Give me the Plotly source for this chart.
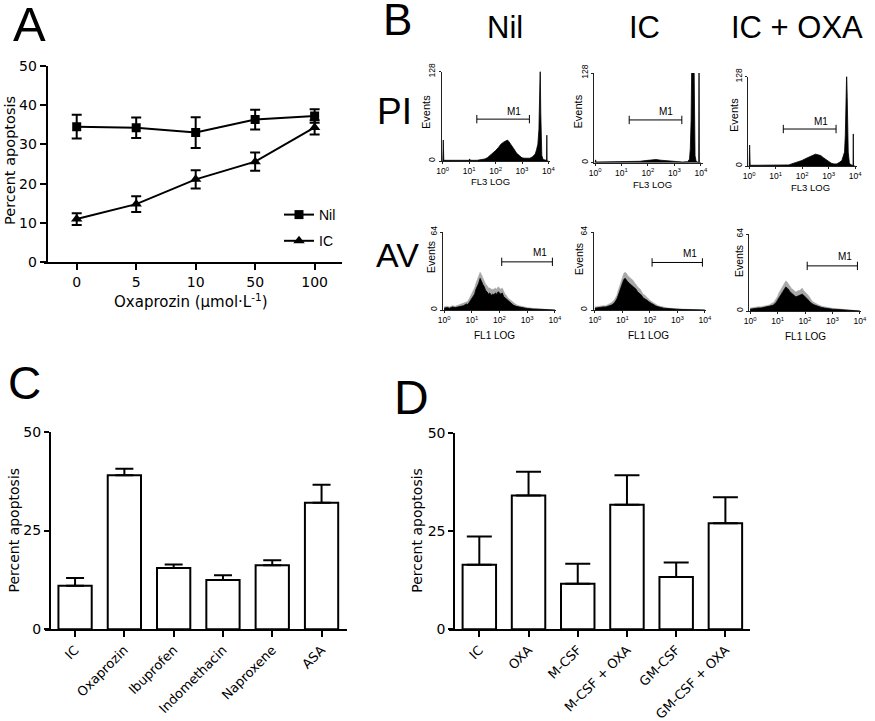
import plotly.graph_objects as go

W, H = 875, 721


def px(x):
    return x / W


def py(y):
    return 1 - y / H


# ---------------- Panel A data ----------------
a_doses = ["0", "5", "10", "50", "100"]
a_nil = [34.5, 34.2, 33.0, 36.3, 37.2]
a_nil_err = [3.0, 2.6, 3.9, 2.5, 1.7]
a_ic = [11.0, 14.8, 21.1, 25.6, 34.3]
a_ic_err = [1.5, 2.0, 2.3, 2.3, 1.8]

# ---------------- Panel B data (flow cytometry, log decades) ----------------
pi_nil_x = [0, 0.02, 0.04, 0.5, 1.0, 1.02, 1.04, 1.3, 1.5, 1.6, 1.7, 1.8, 1.9, 2.0, 2.1, 2.2, 2.3, 2.4, 2.45, 2.5,
            2.6, 2.7, 2.8, 2.9, 3.0, 3.1, 3.2, 3.3, 3.4, 3.5, 3.55, 3.6, 3.64, 3.67, 3.69, 3.71, 3.73, 3.75, 3.8, 3.9,
            3.93, 3.94, 3.95, 4.0]
pi_nil_y = [0, 30, 1, 1, 1, 3, 1, 1, 2, 3, 5, 8, 11, 15, 19, 24, 27, 29, 30, 28,
            23, 17, 11, 7, 4.5, 4, 3.5, 4, 6, 10, 16, 24, 45, 95, 135, 70, 20, 8, 2, 1,
            1, 37, 0, 0]

pi_ic_x = [0, 0.02, 0.04, 0.5, 1.0, 1.5, 1.7, 1.9, 2.1, 2.3, 2.5, 2.7, 2.9, 3.1, 3.3, 3.5, 3.57, 3.6, 3.63, 3.66,
           3.7, 3.74, 3.76, 3.78, 3.82, 3.9, 3.92, 3.93, 3.94, 4.0]
pi_ic_y = [0, 4, 1, 1, 1, 1, 2, 3, 4, 4.5, 3.5, 3, 2, 1, 1, 1.5, 5, 20, 60, 160,
           160, 150, 60, 10, 2, 0, 0, 160, 0, 0]

pi_oxa_x = [0, 0.02, 0.04, 0.5, 1.0, 1.5, 1.6, 1.7, 1.8, 1.9, 2.0, 2.1, 2.2, 2.3, 2.4, 2.5, 2.6, 2.7, 2.8, 2.9,
            3.0, 3.1, 3.2, 3.3, 3.4, 3.5, 3.55, 3.6, 3.63, 3.66, 3.68, 3.70, 3.72, 3.74, 3.78, 3.82, 3.9, 3.92, 3.93,
            3.94, 4.0]
pi_oxa_y = [0, 30, 1, 1, 1, 1.5, 3, 4, 5, 6, 8, 10, 12, 14, 16, 17, 16, 15, 12, 9,
            6, 4, 3, 3, 5, 8, 14, 20, 45, 90, 135, 100, 70, 20, 5, 2, 1, 1, 46,
            0, 0]

av_x = [0, 0.1, 0.2, 0.3, 0.4, 0.5, 0.6, 0.7, 0.8, 0.85, 0.9, 0.95, 1.0, 1.05, 1.1, 1.15, 1.2, 1.25, 1.3, 1.35,
        1.4, 1.45, 1.5, 1.55, 1.6, 1.65, 1.7, 1.75, 1.8, 1.85, 1.9, 1.95, 2.0, 2.05, 2.1, 2.15, 2.2, 2.25, 2.3, 2.4,
        2.5, 2.6, 2.7, 2.8, 3.0, 3.2, 3.4, 3.6, 3.8, 4.0]
av_nil = [1.5, 2, 1.5, 2.5, 2, 2.5, 3, 3.5, 5, 4.5, 6, 8, 9, 12, 13, 17, 19, 22, 26, 23,
          21, 19, 16, 15, 13, 14, 12, 13, 12.5, 14, 13, 15, 14, 13, 14, 11, 10, 9, 7.5, 6,
          4, 3, 2.5, 1.8, 1.2, 0.8, 0.6, 0.4, 0.3, 0]
av_nil_hi = [2.5, 3, 2.5, 3.5, 3, 4, 4.5, 5.5, 7, 7, 9, 11, 13, 16, 18, 22, 25, 28, 31, 29,
             26, 24, 21, 20, 18, 18, 17, 17, 17, 18, 17, 19, 18, 17, 18, 15, 13, 12, 10, 8,
             6, 4.5, 3.5, 2.8, 2, 1.4, 1, 0.8, 0.5, 0]
av_ic = [1.5, 2, 2, 2.5, 2.5, 3, 4, 5.5, 9, 12, 15, 19, 22, 25, 26, 24, 23, 22, 21, 20,
         19, 18, 17, 15, 14, 13, 12, 10, 9.5, 8.5, 8, 7, 6, 5.5, 5, 4, 3.5, 3, 2.5, 2,
         1.5, 1.2, 1, 0.8, 0.6, 0.4, 0.3, 0.2, 0.1, 0]
av_ic_hi = [2.5, 3, 3, 3.5, 3.5, 4.5, 6, 8, 12, 16, 20, 24, 27, 30, 31, 30, 28, 27, 26, 25,
            24, 22, 21, 19, 18, 17, 15, 13, 12.5, 11, 10.5, 9, 8, 7, 6.5, 5.5, 5, 4, 3.5, 3,
            2.2, 1.8, 1.5, 1.2, 1, 0.7, 0.5, 0.4, 0.2, 0]
av_oxa = [1.5, 2, 2, 2.5, 2.5, 3, 3, 3.5, 4.5, 5, 6, 7, 9, 11, 13, 15, 17, 19, 20, 19,
          18, 16, 15, 14, 13, 12, 12, 12.5, 13, 13.5, 14, 13, 12, 11, 10, 8.5, 7, 6, 5.5, 4.5,
          3.5, 3, 2.5, 2, 1.5, 1.2, 1, 0.7, 0.5, 0]
av_oxa_hi = [2.5, 3, 3, 3.5, 3.5, 4, 4.5, 5, 6.5, 7, 8.5, 10, 12, 15, 17, 20, 22, 24, 25, 24,
             22, 20, 19, 18, 17, 16, 16, 17, 17, 18, 19, 17, 16, 15, 13.5, 12, 10, 8.5, 7.5, 6,
             5, 4, 3.5, 3, 2.2, 1.8, 1.5, 1, 0.7, 0]

pi_gate = [1.29, 3.28]
pi_gate_y = [60, 61, 53]
av_gate = [2.08, 3.91]
av_gate_y = [39.5, 39, 37.5]
decade_ticks = [0, 1, 2, 3, 4]
decade_labels = ["10<sup>0</sup>", "10<sup>1</sup>", "10<sup>2</sup>", "10<sup>3</sup>", "10<sup>4</sup>"]

# ---------------- Panel C data ----------------
c_labels = ["IC", "Oxaprozin", "Ibuprofen", "Indomethacin", "Naproxene", "ASA"]
c_vals = [11.0, 39.0, 15.5, 12.5, 16.2, 32.0]
c_err = [2.0, 1.6, 0.9, 1.2, 1.3, 4.6]

# ---------------- Panel D data ----------------
d_labels = ["IC", "OXA", "M-CSF", "M-CSF + OXA", "GM-CSF", "GM-CSF + OXA"]
d_vals = [16.4, 34.0, 11.6, 31.7, 13.3, 27.0]
d_err = [7.2, 6.1, 5.1, 7.5, 3.7, 6.6]

VERD = "DejaVu Sans"
ARIAL = "Liberation Sans"

fig = go.Figure()

# Panel A
fig.add_trace(go.Scatter(x=a_doses, y=a_nil, name="Nil", mode="lines+markers", legendgroup="a",
                         line=dict(color="black", width=2),
                         marker=dict(symbol="square", size=9, color="black"),
                         error_y=dict(type="data", array=a_nil_err, color="black", thickness=2, width=5),
                         xaxis="x", yaxis="y"))
fig.add_trace(go.Scatter(x=a_doses, y=a_ic, name="IC", mode="lines+markers", legendgroup="b",
                         line=dict(color="black", width=2),
                         marker=dict(symbol="triangle-up", size=10, color="black"),
                         error_y=dict(type="data", array=a_ic_err, color="black", thickness=2, width=5),
                         xaxis="x", yaxis="y"))

# Panel B histograms
hists = [
    (pi_nil_x, pi_nil_y, None, 2),
    (pi_ic_x, pi_ic_y, None, 3),
    (pi_oxa_x, pi_oxa_y, None, 4),
    (av_x, av_nil, av_nil_hi, 5),
    (av_x, av_ic, av_ic_hi, 6),
    (av_x, av_oxa, av_oxa_hi, 7),
]
for xs, ys, hi, k in hists:
    if hi is not None:
        fig.add_trace(go.Scatter(x=xs, y=hi, mode="lines", fill="tozeroy", fillcolor="#a8a8a8",
                                 line=dict(color="#a8a8a8", width=0.6), showlegend=False,
                                 xaxis=f"x{k}", yaxis=f"y{k}", hoverinfo="skip"))
    fig.add_trace(go.Scatter(x=xs, y=ys, mode="lines", fill="tozeroy", fillcolor="black",
                             line=dict(color="black", width=0.8), showlegend=False,
                             xaxis=f"x{k}", yaxis=f"y{k}", hoverinfo="skip"))

# gates (M1)
for i, k in enumerate([2, 3, 4]):
    fig.add_trace(go.Scatter(x=pi_gate, y=[pi_gate_y[i]] * 2, mode="lines+markers",
                             line=dict(color="black", width=1),
                             marker=dict(symbol="line-ns-open", size=6, color="black", line=dict(width=1, color="black")),
                             showlegend=False, xaxis=f"x{k}", yaxis=f"y{k}", hoverinfo="skip"))
for i, k in enumerate([5, 6, 7]):
    fig.add_trace(go.Scatter(x=av_gate, y=[av_gate_y[i]] * 2, mode="lines+markers",
                             line=dict(color="black", width=1),
                             marker=dict(symbol="line-ns-open", size=6, color="black", line=dict(width=1, color="black")),
                             showlegend=False, xaxis=f"x{k}", yaxis=f"y{k}", hoverinfo="skip"))

# Panel C bars
fig.add_trace(go.Bar(x=c_labels, y=c_vals, width=0.675, marker=dict(color="white", line=dict(color="black", width=2)),
                     error_y=dict(type="data", symmetric=False, array=c_err, arrayminus=[0] * len(c_err),
                                  color="black", thickness=2, width=9),
                     showlegend=False, xaxis="x8", yaxis="y8"))
# Panel D bars
fig.add_trace(go.Bar(x=d_labels, y=d_vals, width=0.68, marker=dict(color="white", line=dict(color="black", width=2)),
                     error_y=dict(type="data", symmetric=False, array=d_err, arrayminus=[0] * len(d_err),
                                  color="black", thickness=2, width=12.5),
                     showlegend=False, xaxis="x9", yaxis="y9"))

layout = dict(
    width=W, height=H, margin=dict(l=0, r=0, t=0, b=0, autoexpand=False),
    paper_bgcolor="white", plot_bgcolor="rgba(0,0,0,0)",
    showlegend=True,
    legend=dict(x=px(279), y=py(199), xanchor="left", yanchor="top", bgcolor="rgba(0,0,0,0)",
                font=dict(family=ARIAL, size=14, color="black"), tracegroupgap=5, itemwidth=30),
    bargap=0.3,
)

big_axis = dict(showline=True, linecolor="black", linewidth=2, ticks="outside", ticklen=6, tickwidth=2,
                tickcolor="black", showgrid=False, zeroline=False, automargin=False)

# A axes
layout["xaxis"] = dict(big_axis, domain=[px(44), px(342)], range=[-0.55, 4.46], anchor="y",
                       tickfont=dict(family=VERD, size=14, color="black"), type="category")
layout["yaxis"] = dict(big_axis, domain=[py(262.3), py(65.7)], range=[0, 50], anchor="free", position=px(46.7),
                       tickvals=[0, 10, 20, 30, 40, 50], tickfont=dict(family=VERD, size=14, color="black"))

# histogram axes
hist_geo = {
    2: ([441.7, 550], [71.7, 161], [-0.04, 4.06], 128),
    3: ([594, 703], [73, 162.7], [-0.04, 4.08], 128),
    4: ([748.3, 857], [76.7, 166], [-0.03, 4.07], 128),
    5: ([443, 556], [232, 310], [-0.04, 4.04], 64),
    6: ([593.5, 706], [232, 310], [-0.05, 4.04], 64),
    7: ([749, 861], [234, 311], [-0.04, 4.04], 64),
}
small_axis = dict(showline=True, linecolor="#222", linewidth=1, ticks="outside", ticklen=2, tickwidth=1,
                  tickcolor="#222", showgrid=False, zeroline=False, automargin=False,
                  tickfont=dict(family=ARIAL, size=8.5, color="black"))
for k, (xd, yd, xr, ymax) in hist_geo.items():
    layout[f"xaxis{k}"] = dict(small_axis, domain=[px(xd[0]), px(xd[1])], range=xr, anchor=f"y{k}",
                               tickvals=decade_ticks, ticktext=decade_labels)
    layout[f"yaxis{k}"] = dict(small_axis, domain=[py(yd[1]), py(yd[0])], range=[0, ymax], anchor=f"x{k}",
                               tickvals=[0, ymax], ticktext=["0", str(ymax)], tickangle=-90)

# C axes
layout["xaxis8"] = dict(big_axis, domain=[px(45), px(346.7)], range=[-0.61, 5.51], anchor="y8", type="category",
                        tickangle=-45, tickfont=dict(family=VERD, size=13, color="black"))
layout["yaxis8"] = dict(big_axis, domain=[py(629.3), py(431.7)], range=[0, 50], anchor="free", position=px(50),
                        tickvals=[0, 25, 50], ticklen=5, tickfont=dict(family=VERD, size=14, color="black"))
# D axes
layout["xaxis9"] = dict(big_axis, domain=[px(449.3), px(750)], range=[-0.61, 5.50], anchor="y9", type="category",
                        tickangle=-45, tickfont=dict(family=VERD, size=13, color="black"))
layout["yaxis9"] = dict(big_axis, domain=[py(629.3), py(432.7)], range=[0, 50], anchor="free", position=px(454.3),
                        tickvals=[0, 25, 50], ticklen=5, tickfont=dict(family=VERD, size=14, color="black"))


def ann(text, x, y, size, family=ARIAL, angle=0):
    return dict(text=text, x=px(x), y=py(y), xref="paper", yref="paper", showarrow=False,
                font=dict(size=size, family=family, color="black"), textangle=angle,
                xanchor="center", yanchor="middle")


anns = [
    ann("A", 29.5, 24, 49), ann("B", 397, 20, 44), ann("C", 24, 383, 46), ann("D", 411, 397, 48),
    ann("Nil", 505, 28, 31), ann("IC", 644, 28, 31), ann("IC + OXA", 797, 28, 31),
    ann("PI", 394, 112, 37), ann("AV", 397, 255, 34),
    ann("Oxaprozin (µmol·L<sup>-1</sup>)", 191, 301, 15, VERD),
    ann("Percent apoptosis", 10, 161, 14.5, VERD, -90),
    ann("Percent apoptosis", 13.5, 530, 14, VERD, -90),
    ann("Percent apoptosis", 416.7, 530, 14, VERD, -90),
    ann("Events", 426, 112, 11, ARIAL, -90), ann("Events", 577.5, 112, 11, ARIAL, -90),
    ann("Events", 734, 115, 11, ARIAL, -90),
    ann("Events", 431, 257, 10.5, ARIAL, -90), ann("Events", 579, 259, 10.5, ARIAL, -90),
    ann("Events", 739, 261, 10.5, ARIAL, -90),
    ann("FL3 LOG", 490, 181, 9.5), ann("FL3 LOG", 652, 184, 9.5), ann("FL3 LOG", 810, 187, 9.5),
    ann("FL1 LOG", 494, 335, 10), ann("FL1 LOG", 648, 335, 10), ann("FL1 LOG", 805, 336, 10),
]
# M1 labels in data coordinates
for i, k in enumerate([2, 3, 4]):
    anns.append(dict(text="M1", x=2.7, y=pi_gate_y[i], xref=f"x{k}", yref=f"y{k}", yshift=8, showarrow=False,
                     font=dict(size=10, family=ARIAL, color="black")))
for i, k in enumerate([5, 6, 7]):
    anns.append(dict(text="M1", x=3.45, y=av_gate_y[i], xref=f"x{k}", yref=f"y{k}", yshift=9, showarrow=False,
                     font=dict(size=10, family=ARIAL, color="black")))
layout["annotations"] = anns

fig.update_layout(**layout)
fig.write_html("out.html", config={"displayModeBar": False, "staticPlot": True},
               post_script="document.body.style.margin='0';document.body.style.padding='0';"
                           "document.documentElement.style.overflow='hidden';")
